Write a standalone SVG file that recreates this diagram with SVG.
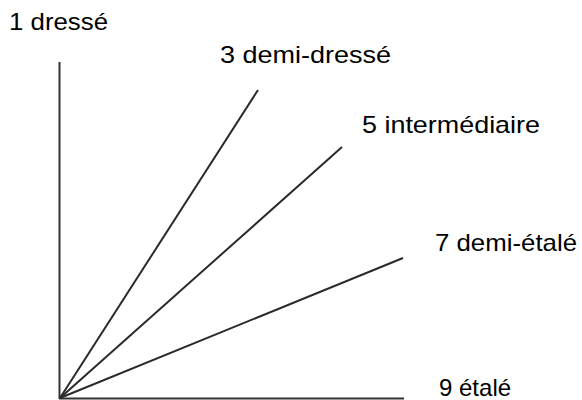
<svg xmlns="http://www.w3.org/2000/svg" width="582" height="400" viewBox="0 0 582 400">
<style>
.ax{stroke:#333;stroke-width:2;fill:none;stroke-linecap:butt}
.ln{stroke:#2a2a2a;stroke-width:2;fill:none}
.lb{font-family:"Liberation Sans",Arial,sans-serif;font-size:24px;fill:#000}
</style>
<rect width="582" height="400" fill="#fff"/>
<g id="connectors">
<line class="ax" x1="59.5" y1="62" x2="59.5" y2="399"/>
<line class="ax" x1="59" y1="398.5" x2="404" y2="398.5"/>
<line class="ln" x1="60" y1="398" x2="258" y2="90"/>
<line class="ln" x1="60" y1="398" x2="342" y2="147"/>
<line class="ln" x1="60" y1="398" x2="403" y2="258"/>
</g>
<g id="n1"><text class="lb" x="9" y="30" textLength="99" lengthAdjust="spacingAndGlyphs">1 dressé</text></g>
<g id="n3"><text class="lb" x="220" y="63" textLength="171" lengthAdjust="spacingAndGlyphs">3 demi-dressé</text></g>
<g id="n5"><text class="lb" x="362" y="133" textLength="178" lengthAdjust="spacingAndGlyphs">5 intermédiaire</text></g>
<g id="n7"><text class="lb" x="435" y="251" textLength="142" lengthAdjust="spacingAndGlyphs">7 demi-étalé</text></g>
<g id="n9"><text class="lb" x="439" y="396">9 étalé</text></g>
</svg>
